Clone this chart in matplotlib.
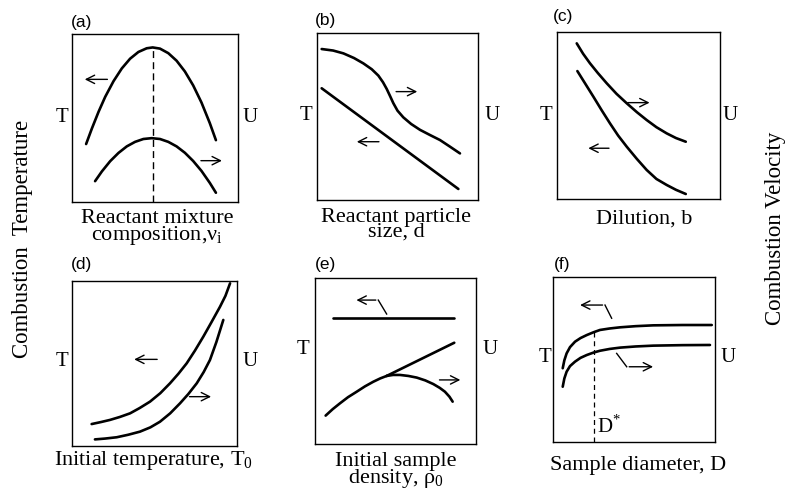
import matplotlib
matplotlib.use("Agg")
import matplotlib.pyplot as plt

plt.rcParams['font.family'] = ['Liberation Serif', 'DejaVu Serif']

W, H = 786, 493

# ---- data (values read off the schematic, axes run 0..10) ----
# (a) reactant mixture composition
a_T_x = [0.85, 1.2, 1.6, 2.0, 2.5, 3.0, 3.5, 4.0, 4.5, 4.86, 5.3, 5.8, 6.3, 6.8, 7.3, 7.8, 8.3, 8.67]
a_T_y = [3.45, 4.38, 5.37, 6.26, 7.19, 7.95, 8.53, 8.93, 9.15, 9.2, 9.13, 8.86, 8.41, 7.77, 6.94, 5.92, 4.70, 3.68]
a_U_x = [1.39, 1.8, 2.3, 2.8, 3.3, 3.8, 4.3, 4.8, 5.3, 5.8, 6.3, 6.8, 7.3, 7.8, 8.3, 8.67]
a_U_y = [1.24, 1.82, 2.43, 2.92, 3.31, 3.58, 3.75, 3.8, 3.75, 3.58, 3.31, 2.93, 2.44, 1.85, 1.14, 0.55]
a_peak_x = 4.86

# (b) reactant particle size
b_U_x = [0.29, 1.0, 1.64, 2.3, 2.88, 3.4, 3.81, 4.1, 4.33, 4.55, 4.74, 5.0, 5.36, 5.85, 6.4, 7.0, 7.64, 8.25, 8.88]
b_U_y = [9.04, 8.95, 8.78, 8.5, 8.18, 7.83, 7.45, 7.05, 6.65, 6.2, 5.8, 5.35, 4.95, 4.55, 4.2, 3.9, 3.59, 3.2, 2.79]
b_T_x = [0.29, 8.78]
b_T_y = [6.69, 0.66]

# (c) dilution
c_U_x = [1.21, 1.6, 2.02, 2.5, 3.05, 3.65, 4.28, 4.9, 5.5, 6.1, 6.73, 7.3, 7.9]
c_U_y = [9.32, 8.7, 8.13, 7.55, 6.93, 6.3, 5.73, 5.2, 4.73, 4.3, 3.93, 3.65, 3.43]
c_T_x = [1.25, 1.75, 2.23, 2.75, 3.25, 3.75, 4.28, 4.9, 5.5, 6.1, 6.73, 7.3, 7.9]
c_T_y = [7.66, 6.88, 6.13, 5.3, 4.53, 3.8, 3.13, 2.4, 1.74, 1.2, 0.84, 0.55, 0.30]

# (d) initial temperature
d_T_x = [1.19, 1.75, 2.30, 2.9, 3.52, 4.1, 4.73, 5.35, 5.94, 6.45, 6.95, 7.45, 7.96, 8.45, 8.97, 9.3, 9.58]
d_T_y = [1.33, 1.45, 1.58, 1.76, 1.98, 2.3, 2.69, 3.2, 3.80, 4.38, 5.01, 5.78, 6.63, 7.5, 8.44, 9.1, 9.86]
d_U_x = [1.39, 2.0, 2.71, 3.4, 4.12, 4.75, 5.33, 5.95, 6.55, 7.05, 7.56, 7.98, 8.36, 8.75, 9.17]
d_U_y = [0.40, 0.45, 0.53, 0.68, 0.87, 1.13, 1.47, 1.98, 2.59, 3.15, 3.80, 4.48, 5.21, 6.3, 7.64]

# (e) initial sample density
e_T_x = [1.10, 8.65]
e_T_y = [7.61, 7.61]
e_low_x = [0.66, 1.1, 1.55, 2.05, 2.59, 3.1, 3.62, 4.05, 4.45]
e_low_y = [1.71, 2.1, 2.45, 2.82, 3.15, 3.47, 3.75, 3.95, 4.10]
e_rise_x = [4.45, 8.65]
e_rise_y = [4.10, 6.10]
e_fall_x = [4.45, 4.85, 5.28, 5.8, 6.32, 6.85, 7.35, 7.75, 8.07, 8.35, 8.55]
e_fall_y = [4.10, 4.16, 4.16, 4.1, 4.00, 3.83, 3.61, 3.38, 3.15, 2.85, 2.55]

# (f) sample diameter
f_T_x = [0.60, 0.7, 0.84, 1.05, 1.36, 1.7, 2.08, 2.5, 2.90, 3.5, 4.14, 5.1, 6.19, 8.0, 9.80]
f_T_y = [4.47, 4.95, 5.37, 5.75, 6.08, 6.3, 6.48, 6.65, 6.79, 6.88, 6.95, 7.02, 7.07, 7.09, 7.09]
f_U_x = [0.60, 0.7, 0.84, 1.05, 1.36, 1.7, 2.08, 2.5, 2.90, 3.5, 4.14, 5.1, 6.19, 8.0, 9.69]
f_U_y = [3.35, 3.85, 4.26, 4.6, 4.87, 5.1, 5.27, 5.42, 5.53, 5.64, 5.72, 5.79, 5.84, 5.87, 5.88]
f_crit_x = 2.53
f_crit_top = 6.68

# panel boxes in pixels: left, top, right, bottom
boxes = {
    'a': (72, 34, 238, 202),
    'b': (317, 33, 478, 200),
    'c': (557, 32, 720, 199),
    'd': (72, 281, 237, 446),
    'e': (315, 278, 476, 444),
    'f': (553, 277, 715, 442),
}
panel_tags = {'a': (82, 22), 'b': (325, 20), 'c': (563, 16),
              'd': (82, 265), 'e': (325, 265), 'f': (562, 265)}
t_pos = {'a': (62, 117), 'b': (306, 115), 'c': (546, 115),
         'd': (62, 362), 'e': (303, 350), 'f': (545, 357)}
u_pos = {'a': (250, 117), 'b': (492, 115), 'c': (730, 115),
         'd': (250, 362), 'e': (490, 350), 'f': (728, 357)}
# text, center x, baseline y of last line
xlabels = {
    'a': ("Reactant mixture\ncomposition,ν$_\\mathregular{i}$", 157, 240),
    'b': ("Reactant particle\nsize, d", 396, 237),
    'c': ("Dilution, b", 644, 224),
    'd': ("Initial temperature, T$_\\mathregular{0}$", 153, 465),
    'e': ("Initial sample\ndensity, ρ$_\\mathregular{0}$", 396, 483),
    'f': ("Sample diameter, D", 638, 470),
}


def fx(x):
    return x / W


def fy(y):
    return 1 - y / H


fig = plt.figure(figsize=(W / 100, H / 100), dpi=100)
fig.patch.set_facecolor('white')

axes = {}
for key, (l, t, r, b) in boxes.items():
    ax = fig.add_axes([fx(l), fy(b), (r - l) / W, (b - t) / H])
    ax.set_xlim(0, 10)
    ax.set_ylim(0, 10)
    ax.set_xticks([])
    ax.set_yticks([])
    for s in ax.spines.values():
        s.set_linewidth(1.0)
    axes[key] = ax
    fig.text(fx(panel_tags[key][0]), fy(panel_tags[key][1]), f"({key})",
             family='Liberation Sans', fontsize=12.5, ha='center', va='center')
    fig.text(fx(t_pos[key][0]), fy(t_pos[key][1]), "T", fontsize=15,
             ha='center', va='center')
    fig.text(fx(u_pos[key][0]), fy(u_pos[key][1]), "U", fontsize=15,
             ha='center', va='center')
    txt, lx, ly = xlabels[key]
    fig.text(fx(lx), fy(ly), txt, fontsize=16, ha='center', va='baseline',
             multialignment='center', linespacing=0.72)

LW = 1.9
CURVE = dict(color='black', lw=LW, solid_joinstyle='round', solid_capstyle='round')
ARW = dict(arrowstyle='->', lw=1.0, color='black', mutation_scale=15)


def arrow(ax, tail, head):
    ax.annotate('', xy=head, xytext=tail, arrowprops=ARW)


ax = axes['a']
ax.plot(a_T_x, a_T_y, **CURVE)
ax.plot(a_U_x, a_U_y, **CURVE)
ax.plot([a_peak_x, a_peak_x], [0, max(a_T_y)], color='black', lw=1.0, ls=(0, (5, 3)))
arrow(ax, (2.3, 7.3), (0.6, 7.3))
arrow(ax, (7.6, 2.46), (9.2, 2.46))

ax = axes['b']
ax.plot(b_U_x, b_U_y, **CURVE)
ax.plot(b_T_x, b_T_y, **CURVE)
arrow(ax, (4.74, 6.49), (6.4, 6.49))
arrow(ax, (4.02, 3.49), (2.3, 3.49))

ax = axes['c']
ax.plot(c_U_x, c_U_y, **CURVE)
ax.plot(c_T_x, c_T_y, **CURVE)
arrow(ax, (4.17, 5.77), (5.85, 5.77))
arrow(ax, (3.36, 3.04), (1.75, 3.04))

ax = axes['d']
ax.plot(d_T_x, d_T_y, **CURVE)
ax.plot(d_U_x, d_U_y, **CURVE)
arrow(ax, (5.33, 5.25), (3.6, 5.25))
arrow(ax, (6.95, 2.99), (8.6, 2.99))

ax = axes['e']
ax.plot(e_T_x, e_T_y, **CURVE)
ax.plot(e_low_x, e_low_y, **CURVE)
ax.plot(e_rise_x, e_rise_y, **CURVE)
ax.plot(e_fall_x, e_fall_y, **CURVE)
ax.plot([4.45, 3.93], [7.83, 8.67], color='black', lw=1.0)
arrow(ax, (3.95, 8.67), (2.4, 8.67))
arrow(ax, (7.56, 3.86), (9.2, 3.86))

ax = axes['f']
ax.plot(f_T_x, f_T_y, **CURVE)
ax.plot(f_U_x, f_U_y, **CURVE)
ax.plot([f_crit_x, f_crit_x], [0, f_crit_top], color='black', lw=0.9, ls=(0, (4, 3)))
ax.text(2.7, 0.55, "D$^\\mathregular{*}$", fontsize=15, ha='left', va='baseline')
ax.plot([3.62, 3.21], [7.50, 8.30], color='black', lw=1.0)
arrow(ax, (3.23, 8.30), (1.5, 8.30))
ax.plot([3.93, 4.55], [5.37, 4.56], color='black', lw=1.0)
arrow(ax, (4.53, 4.56), (6.35, 4.56))

fig.text(fx(23), fy(239), "Combustion  Temperature", rotation=90,
         fontsize=16.5, ha='center', va='center')
fig.text(fx(775), fy(228), "Combustion Velocity", rotation=90,
         fontsize=16.5, ha='center', va='center')

fig.savefig("out.png", dpi=100)
